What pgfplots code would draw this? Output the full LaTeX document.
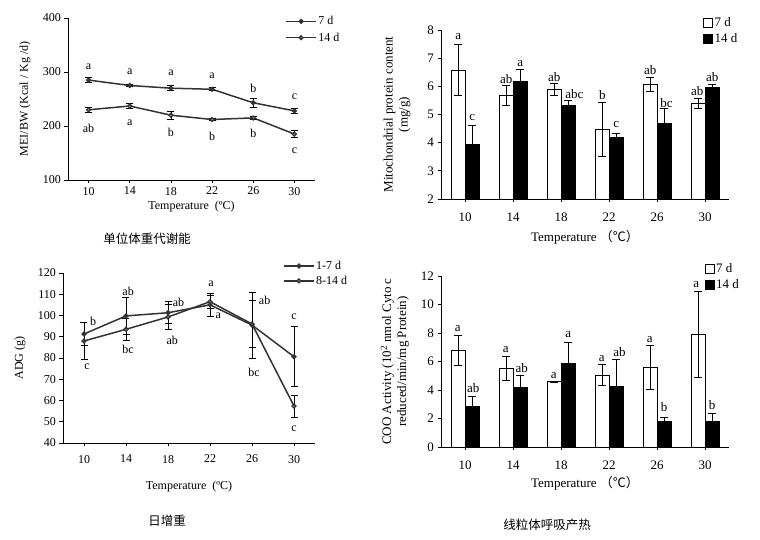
\documentclass[border=0pt]{standalone}
\usepackage{pgfplots}
\usepackage{pgfplotstable}
\pgfplotsset{compat=1.18}
\usepackage{fontspec}
\setmainfont{Liberation Serif}
\newfontfamily\cjk{Noto Sans CJK SC}

\pgfplotsset{
  base/.style={
    scale only axis, axis x line=bottom, axis y line=left,
    axis line style={-, line width=0.9pt, black},
    tick align=outside, major tick length=3.5pt,
    tick style={black, line width=0.7pt},
    /pgf/number format/assume math mode=true,
    legend cell align=left,
    legend style={draw=none, fill=none, inner sep=0pt, anchor=north west,
      nodes={inner sep=1.5pt}},
  },
  lnpanel/.style={base,
    xmin=8, xmax=32, xtick={10,14,...,30},
    font=\fontsize{12}{14}\selectfont,
    tick label style={font=\fontsize{12}{14}\selectfont},
    legend style={font=\fontsize{12}{14}\selectfont, row sep=3.5pt},
    legend image code/.code={\draw[mark repeat=2, mark phase=2, ##1]
      plot coordinates {(0pt,0pt) (15pt,0pt) (30pt,0pt)};},
  },
  barpanel/.style={base,
    xmin=-0.5, xmax=5.5, xtick={0,...,5}, xticklabels={10,14,18,22,26,30},
    font=\fontsize{13}{15}\selectfont,
    tick label style={font=\fontsize{13}{15}\selectfont},
    xticklabel style={yshift=-7pt},
    legend style={font=\fontsize{13}{15}\selectfont, row sep=3pt},
  },
  eb/.style={
    /pgfplots/error bars/y dir=both, /pgfplots/error bars/y explicit,
    /pgfplots/error bars/error bar style={line width=0.8pt, black},
    /pgfplots/error bars/error mark options={rotate=90, mark size=#1, line width=0.8pt, black}},
  ln/.style={color=black!80, line width=1.5pt, mark size=1.8pt, eb=3.5pt},
  br/.style={ybar, bar width=14pt, draw=black, line width=0.8pt,
    legend image code/.code={\draw[##1] (0pt,-4.5pt) rectangle (9pt,4.5pt);}},
  er/.style={only marks, mark=text, text mark={}, forget plot, eb=4pt},
  lab/.style={only marks, mark=text, text mark={},
    forget plot, nodes near coords, point meta=explicit symbolic,
    every node near coord/.append style={anchor=center, inner sep=0pt, text=black}},
}

% mitochondrial protein content (mg/g)
\pgfplotstableread{
x y e
0 6.58 0.90
1 5.67 0.36
2 5.89 0.22
3 4.47 0.95
4 6.07 0.26
5 5.40 0.17
}\mpA
\pgfplotstableread{
x y e
0 3.95 0.68
1 6.17 0.43
2 5.31 0.20
3 4.18 0.16
4 4.69 0.51
5 5.95 0.13
}\mpB
% COO activity
\pgfplotstableread{
x y e
0 6.76 1.05
1 5.52 0.87
2 4.58 0.05
3 5.05 0.75
4 5.57 1.55
5 7.90 3.05
}\coA
\pgfplotstableread{
x y e
0 2.85 0.73
1 4.16 0.89
2 5.87 1.45
3 4.28 1.87
4 1.78 0.30
5 1.80 0.56
}\coB

\begin{document}
\begin{tikzpicture}
\useasboundingbox (0,0) rectangle (760pt,540pt);

% ---- top left: MEI/BW ----
\begin{axis}[lnpanel, at={(68pt,360pt)}, anchor=south west,
  width=247pt, height=162pt,
  ymin=100, ymax=400, ytick={100,200,300,400},
  xlabel={Temperature\ \ (ºC)}, ylabel={MEI/BW (Kcal / Kg /d)},
  x label style={at={(axis description cs:0.5,-0.167)}, anchor=center},
  y label style={at={(axis description cs:-0.174,0.5)}, anchor=center},
  legend style={at={(axis description cs:0.879,1.02)}},
]
\addplot[ln, mark=*] table[y error=e] {
x y e
10 285 5
14 275 2
18 270 5
22 268 3
26 243 8
30 228 5
};
\addlegendentry{7 d}
\addplot[ln, mark=*, mark options={fill=white}] table[y error=e] {
x y e
10 230 4
14 237 4
18 220 7
22 212 2
26 215 3
30 185 7
};
\addlegendentry{14 d}
\addplot[lab] table[meta=l] {
x y l
10 309 a
14 300 a
18 298 a
22 293 a
26 270 b
30 254 c
10 196 ab
14 206 a
18 189 b
22 181 b
26 187 b
30 154 c
};
\end{axis}

% ---- top right: mitochondrial protein ----
\begin{axis}[barpanel, at={(441pt,341pt)}, anchor=south west,
  width=288pt, height=169pt,
  ymin=2, ymax=8, ytick={2,...,8},
  xlabel={Temperature {\cjk（℃）}},
  ylabel={Mitochondrial protein content\\(mg/g)},
  x label style={at={(axis description cs:0.5,-0.225)}, anchor=center},
  y label style={at={(axis description cs:-0.153,0.5)}, anchor=center, align=center},
  legend style={at={(axis description cs:0.91,1.085)}},
]
\addplot[br, bar shift=-7pt, fill=white] table {\mpA};
\addlegendentry{7 d}
\addplot[br, bar shift=7pt, fill=black] table {\mpB};
\addlegendentry{14 d}
\addplot[er] table[x expr=\thisrow{x}-0.146, y error=e] {\mpA};
\addplot[er] table[x expr=\thisrow{x}+0.146, y error=e] {\mpB};
\addplot[lab] table[meta=l] {
x y l
-0.14 7.76 a
0.86 6.26 ab
1.86 6.32 ab
2.86 5.69 b
3.86 6.58 ab
4.84 5.83 ab
0.15 4.89 c
1.15 6.82 a
2.28 5.73 abc
3.15 4.63 c
4.20 5.42 bc
5.15 6.32 ab
};
\end{axis}

% ---- bottom left: ADG ----
\begin{axis}[lnpanel, at={(63pt,97pt)}, anchor=south west,
  width=252pt, height=170pt,
  ymin=40, ymax=120, ytick={40,50,...,120},
  xticklabel style={yshift=-5pt},
  xlabel={Temperature\ \ (ºC)}, ylabel={ADG (g)},
  x label style={at={(axis description cs:0.5,-0.259)}, anchor=center},
  y label style={at={(axis description cs:-0.171,0.5)}, anchor=center},
  legend style={at={(axis description cs:0.873,1.08)}, row sep=2pt},
]
\addplot[ln, mark=*] table[y error=e] {
x y e
10 91.3 5.5
14 99.8 8.8
18 101.3 5.2
22 105 5.5
26 95.5 15.5
30 80.6 14.1
};
\addlegendentry{1-7 d}
\addplot[ln, mark=*, mark options={fill=white}] table[y error=e] {
x y e
10 88 8.6
14 93.5 5
18 99.3 6
22 106.5 3
26 96 11
30 57.4 5.2
};
\addlegendentry{8-14 d}
\addplot[lab] table[meta=l] {
x y l
10.86 97 b
10.3 75.8 c
14.2 111.5 ab
14.2 84 bc
19.0 106.4 ab
18.4 88.5 ab
22.1 115 a
22.8 100 a
27.2 107 ab
26.2 73.4 bc
30 99.4 c
30 46.7 c
};
\end{axis}

% ---- bottom right: COO activity ----
\begin{axis}[barpanel, at={(441pt,93pt)}, anchor=south west,
  width=288pt, height=171pt,
  ymin=0, ymax=12, ytick={0,2,...,12},
  xlabel={Temperature {\cjk（℃）}},
  ylabel={COO Activity (10\textsuperscript{2} nmol Cyto c\\reduced/min/mg Protein)},
  x label style={at={(axis description cs:0.5,-0.21)}, anchor=center},
  y label style={at={(axis description cs:-0.16,0.5)}, anchor=center, align=center},
  legend style={at={(axis description cs:0.915,1.085)}},
]
\addplot[br, bar shift=-7pt, fill=white] table {\coA};
\addlegendentry{7 d}
\addplot[br, bar shift=7pt, fill=black] table {\coB};
\addlegendentry{14 d}
\addplot[er] table[x expr=\thisrow{x}-0.146, y error=e] {\coA};
\addplot[er] table[x expr=\thisrow{x}+0.146, y error=e] {\coB};
\addplot[lab] table[meta=l] {
x y l
-0.15 8.33 a
0.85 6.81 a
1.85 5.05 a
2.85 6.22 a
3.85 7.51 a
4.82 11.37 a
0.17 4.12 ab
1.18 5.52 ab
2.15 7.86 a
3.22 6.69 ab
4.15 2.83 b
5.15 2.95 b
};
\end{axis}

\node[font=\cjk\fontsize{12.5}{14}\selectfont] at (147pt,301pt) {单位体重代谢能};
\node[font=\cjk\fontsize{12.5}{14}\selectfont] at (167pt,19pt) {日增重};
\node[font=\cjk\fontsize{12.5}{14}\selectfont] at (547pt,15pt) {线粒体呼吸产热};
\end{tikzpicture}
\end{document}
